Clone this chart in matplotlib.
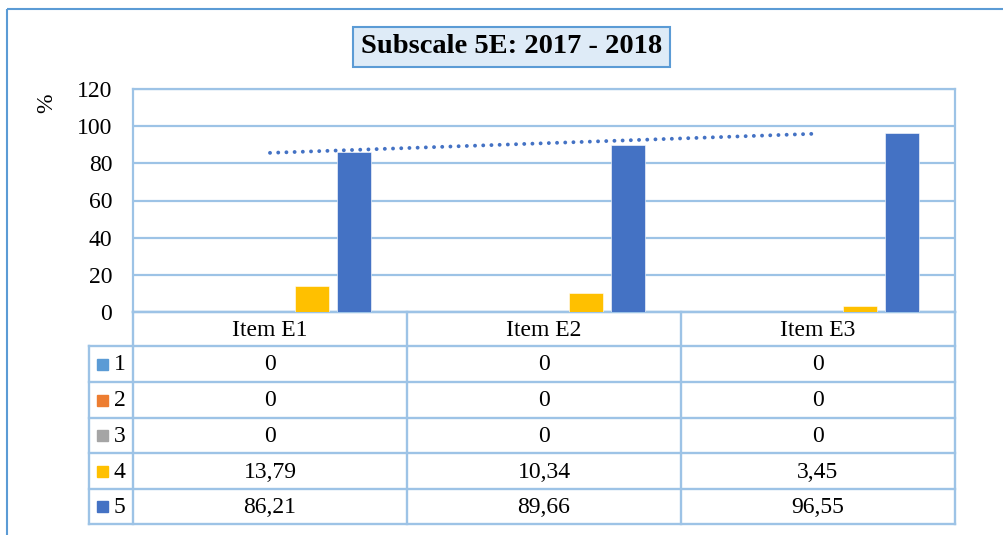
import numpy as np
import matplotlib
matplotlib.use("Agg")
import matplotlib.pyplot as plt
from matplotlib.patches import Rectangle

plt.rcParams['font.family'] = ['Liberation Serif', 'DejaVu Serif']

categories = ["Item E1", "Item E2", "Item E3"]
series_names = ["1", "2", "3", "4", "5"]
s1 = [0, 0, 0]
s2 = [0, 0, 0]
s3 = [0, 0, 0]
s4 = [13.79, 10.34, 3.45]
s5 = [86.21, 89.66, 96.55]
series = [s1, s2, s3, s4, s5]
colors = ["#5B9BD5", "#ED7D31", "#A5A5A5", "#FFC000", "#4472C4"]
yticks = [0, 20, 40, 60, 80, 100, 120]
title = "Subscale 5E: 2017 - 2018"

W, H = 1004, 535
fig = plt.figure(figsize=(W / 100, H / 100), dpi=100)
grid_c = "#9DC3E6"
FS = 17

# background overlay axes in pixel coordinates
bg = fig.add_axes([0, 0, 1, 1], zorder=0)
bg.set_xlim(0, W)
bg.set_ylim(H, 0)
bg.axis("off")

# chart border
bg.plot([7, 7], [9, H + 5], color="#5B9BD5", lw=1.5, solid_capstyle="butt")
bg.plot([7, W + 5], [9, 9], color="#5B9BD5", lw=1.5, solid_capstyle="butt")

# plot area
L, R, T, B = 133, 955, 89, 312
ax = fig.add_axes([L / W, 1 - B / H, (R - L) / W, (B - T) / H], zorder=2)
ax.patch.set_alpha(0)
x = np.arange(len(categories))
bw = 0.124
step = 0.153
for i, (vals, c) in enumerate(zip(series, colors)):
    ax.bar(x + (i - 2) * step, vals, width=bw, color=c, zorder=3,
           edgecolor="white", linewidth=0.4)
# linear trendline for series 5
coef = np.polyfit(x, s5, 1)
ax.plot(x, np.polyval(coef, x), linestyle=(0, (0.01, 2.1)), color="#4472C4",
        lw=2.8, dash_capstyle="round", zorder=4)

ax.set_xlim(-0.5, 2.5)
ax.set_ylim(0, 120)
ax.set_yticks(yticks)
ax.set_yticklabels([str(v) for v in yticks], fontsize=FS)
ax.tick_params(axis="y", length=0, pad=15)
ax.set_xticks([])
ax.grid(axis="y", color=grid_c, lw=1.6, zorder=0)
for sp in ["top", "bottom", "left", "right"]:
    ax.spines[sp].set_color(grid_c)
    ax.spines[sp].set_linewidth(1.6)
ax.set_ylabel("%", fontsize=FS)
ax.yaxis.set_label_coords(-0.092, 0.935)

# data table
colx = [89, 133, 407, 681, 955]
rowy = [312, 346, 382, 418, 453, 489, 524]
lw = 1.7
for cx in colx[1:]:
    bg.plot([cx, cx], [rowy[0], rowy[-1]], color=grid_c, lw=lw)
bg.plot([colx[0], colx[0]], [rowy[1], rowy[-1]], color=grid_c, lw=lw)
bg.plot([colx[1], colx[-1]], [rowy[0], rowy[0]], color=grid_c, lw=lw)
for ry in rowy[1:]:
    bg.plot([colx[0], colx[-1]], [ry, ry], color=grid_c, lw=lw)

for j, cat in enumerate(categories):
    cx = (colx[j + 1] + colx[j + 2]) / 2
    bg.text(cx, (rowy[0] + rowy[1]) / 2 + 1, cat, ha="center", va="center", fontsize=FS)
for i, (name, vals, c) in enumerate(zip(series_names, series, colors)):
    cy = (rowy[i + 1] + rowy[i + 2]) / 2
    bg.add_patch(Rectangle((97, cy - 5.5), 11, 11, color=c))
    bg.text(119.5, cy + 1, name, ha="center", va="center", fontsize=FS)
    for j, v in enumerate(vals):
        cx = (colx[j + 1] + colx[j + 2]) / 2
        txt = f"{v:g}".replace(".", ",")
        if v != 0:
            txt = f"{v:.2f}".replace(".", ",")
        bg.text(cx, cy + 1, txt, ha="center", va="center", fontsize=FS)

# title
fig.text(511.5 / W, 1 - 47 / H, title, ha="center", va="center", fontsize=20.5,
         fontweight="bold", zorder=5,
         bbox=dict(boxstyle="square,pad=0.28", facecolor="#DEEBF7",
                   edgecolor="#5B9BD5", linewidth=1.5))

fig.savefig("out.png", dpi=100)
